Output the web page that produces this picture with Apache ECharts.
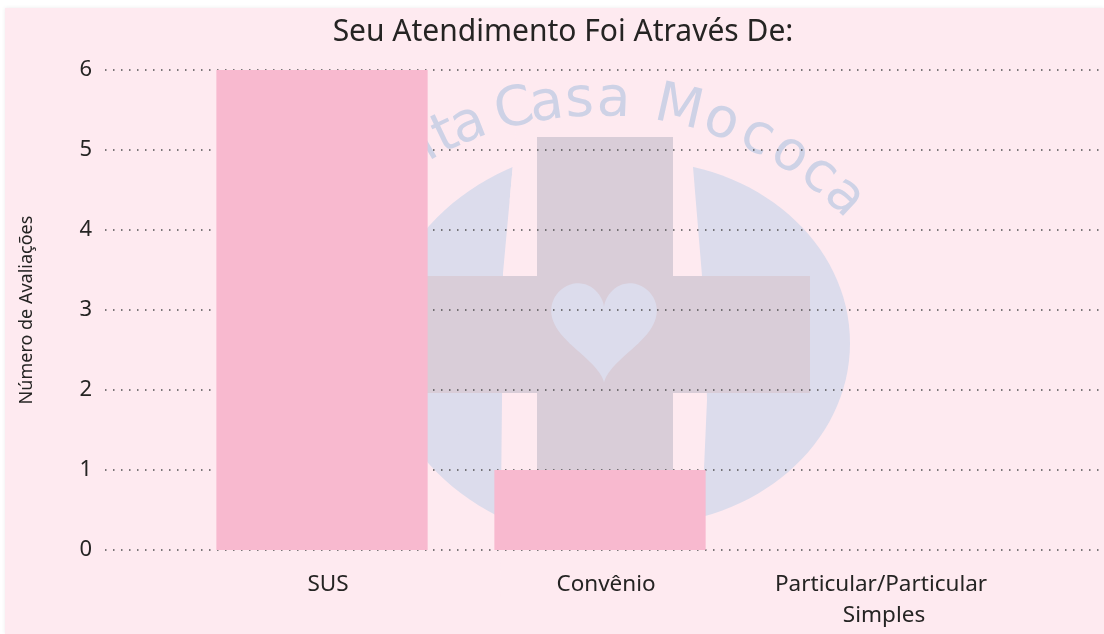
<!DOCTYPE html>
<html>
<head>
<meta charset="utf-8">
<script src="https://cdn.jsdelivr.net/npm/echarts@6/dist/echarts.min.js"></script>
<style>
  html, body { margin: 0; padding: 0; background: #ffffff; width: 1104px; height: 634px; overflow: hidden; }
  #card { position: absolute; left: 5px; top: 8px; width: 1099px; height: 626px; background: #feeaf0; box-shadow: 0 0 4px rgba(0,0,0,0.08); }
  #chart { width: 1099px; height: 626px; }
</style>
</head>
<body>
<div id="card"><div id="chart"></div></div>
<script>
// ---- data ----
const titleText = 'Seu Atendimento Foi Através De:';
const yAxisName = 'Número de Avaliações';
const categories = ['SUS', 'Convênio', 'Particular/Particular Simples'];
const values = [6, 1, 0];
const yTicks = [0, 1, 2, 3, 4, 5, 6];

// ---- watermark (decorative background logo) ----
const FONT = '"Noto Sans", "Open Sans", sans-serif';
const wmColor = '#dcdcec';
const crossColor = '#d9cdd8';
const bg = '#feeaf0';
const ox = 5, oy = 8; // card offset from page
function P(x, y) { return [x - ox, y - oy]; }

const graphics = [];
let zz = -20;
function add(el) { el.z = zz++; el.silent = true; graphics.push(el); }
// left lobe of the disc
const lc = P(622, 345);
add({ type: 'ellipse', shape: { cx: lc[0], cy: lc[1], rx: 240, ry: 200 }, style: { fill: wmColor } });
// mask everything right of the left gap
add({ type: 'polygon', shape: { points: [P(517,120), P(1000,120), P(1000,600), P(500,600), P(502,400), P(503,273)] }, style: { fill: bg } });
// right lobe
const rc = P(640, 343);
add({ type: 'ellipse', shape: { cx: rc[0], cy: rc[1], rx: 210, ry: 182 }, style: { fill: wmColor } });
// gaps beside the vertical bar of the cross
add({ type: 'polygon', shape: { points: [P(517,120), P(540,120), P(540,600), P(500,600), P(502,400), P(503,273)] }, style: { fill: bg } });
add({ type: 'polygon', shape: { points: [P(670,120), P(693,120), P(693,167), P(704,300), P(707,400), P(700,560), P(670,560)] }, style: { fill: bg } });
// cross
const v0 = P(537, 137), v1 = P(673, 550);
add({ type: 'rect', shape: { x: v0[0], y: v0[1], width: v1[0] - v0[0], height: v1[1] - v0[1] }, style: { fill: crossColor } });
const h0 = P(400, 276), h1 = P(810, 393);
add({ type: 'rect', shape: { x: h0[0], y: h0[1], width: h1[0] - h0[0], height: h1[1] - h0[1] }, style: { fill: crossColor } });
// heart (parametric outline, decorative)
const heartPts = [];
for (let k = 0; k < 120; k++) {
  const t = k / 120 * 2 * Math.PI;
  const hx = 16 * Math.pow(Math.sin(t), 3);
  const hy = 13 * Math.cos(t) - 5 * Math.cos(2 * t) - 2 * Math.cos(3 * t) - Math.cos(4 * t);
  heartPts.push(P(604 + 3.3 * hx, 283 + 3.45 * (12 - hy)));
}
add({ type: 'polygon', shape: { points: heartPts }, style: { fill: wmColor } });
// curved text
const arcC = P(600, 459), arcR = 358;
const wmChars = ['S','a','n','t','a','C','a','s','a','M','o','c','o','c','a'];
const wmAngles = [-42,-36,-30.5,-25.5,-21.5,-13.8,-8.6,-3.3,2.2,12.7,19.8,26,32,37.6,43];
wmChars.forEach((ch, i) => {
  const a = wmAngles[i] * Math.PI / 180;
  add({ type: 'text',
    x: arcC[0] + arcR * Math.sin(a), y: arcC[1] - arcR * Math.cos(a), rotation: -a,
    style: { text: ch, font: '55px "DejaVu Sans", sans-serif', fill: '#ced2e6', textAlign: 'center', textVerticalAlign: 'middle' } });
});

const chart = echarts.init(document.getElementById('chart'), null, { renderer: 'canvas' });
const option = {
  backgroundColor: 'transparent',
  animation: false,
  title: { text: titleText, left: 553, top: 4, textAlign: 'center',
    textStyle: { fontFamily: FONT, fontSize: 30, fontWeight: 'normal', color: '#252423' } },
  graphic: graphics,
  grid: [
    { left: 178, right: 87, top: 62, bottom: 84 },
    { left: 100, right: 4, top: 62, bottom: 84 }
  ],
  xAxis: [
    { type: 'category', gridIndex: 0, data: categories,
      axisLine: { show: false }, axisTick: { show: false },
      axisLabel: { fontFamily: FONT, fontSize: 22.5, color: '#252423', margin: 19, width: 240, overflow: 'break', lineHeight: 31, interval: 0, padding: [0, 0, 0, 12] } },
    { type: 'value', gridIndex: 1, show: false, min: 0, max: 1 }
  ],
  yAxis: [
    { type: 'value', gridIndex: 0, min: 0, max: 6, interval: 1, show: false },
    { type: 'value', gridIndex: 1, min: yTicks[0], max: yTicks[yTicks.length - 1], interval: 1,
      name: yAxisName, nameLocation: 'middle', nameGap: 69, nameRotate: 90,
      nameTextStyle: { fontFamily: FONT, fontSize: 18, color: '#252423' },
      axisLine: { show: false }, axisTick: { show: false },
      axisLabel: { fontFamily: FONT, fontSize: 22, color: '#252423', margin: 13 },
      splitLine: { show: true, lineStyle: { color: '#505050', width: 1.5, type: [1.5, 6.5] } } }
  ],
  series: [
    { type: 'bar', xAxisIndex: 0, yAxisIndex: 0, data: values, barCategoryGap: '24%',
      itemStyle: { color: '#f8b9cf' }, z: 3 }
  ]
};
chart.setOption(option);
</script>
</body>
</html>
